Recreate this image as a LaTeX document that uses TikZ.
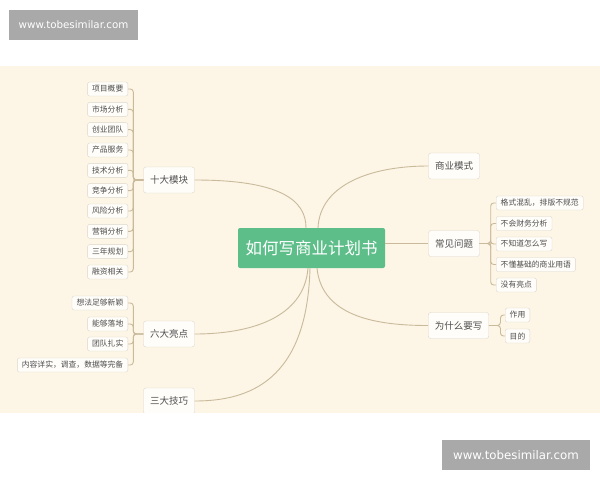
\documentclass[tikz,border=0pt]{standalone}
\usepackage{fontspec}
\setmainfont{Noto Sans CJK SC}
\newfontfamily\wmfont{DejaVu Sans}
\usepackage{tikz}
\usetikzlibrary{positioning}
\definecolor{cream}{HTML}{FDF5E5}
\definecolor{linkc}{HTML}{C9BA9C}
\definecolor{rootc}{HTML}{5DBE89}
\definecolor{boxc}{HTML}{FFFDF9}
\definecolor{edgec}{HTML}{DDD7CB}
\definecolor{textc}{HTML}{4F4F4F}
\definecolor{wmc}{HTML}{A9A9A9}

\tikzset{
  root/.style={fill=rootc, rounded corners=2pt, text=white, minimum width=147pt, minimum height=40pt, font=\fontsize{16.5}{18}\selectfont},
  branch/.style={draw=edgec, fill=boxc, rounded corners=2.5pt, text=textc, inner xsep=6.5pt, minimum height=26pt, font=\fontsize{9.5}{11}\selectfont},
  leaf/.style={draw=edgec, fill=boxc, rounded corners=2pt, text=textc, inner xsep=4.5pt, inner ysep=0pt, minimum height=14pt, font=\fontsize{7.8}{9}\selectfont},
  link/.style={draw=linkc, line width=0.9pt},
  wm/.style={fill=wmc, text=white, inner sep=0pt, minimum height=30pt}
}

\begin{document}
\begin{tikzpicture}[x=1pt,y=-1pt]
        \useasboundingbox (0,0) rectangle (600,480);
        % Background
        \fill[white] (0,0) rectangle (600,480);
        \fill[cream] (0,66) rectangle (600,412.5);
        \begin{scope}
        \clip (0,66) rectangle (600,412.5);
        % Centre
        \node[root] (c) at (311.5,248) {如何写商业计划书};
        % Left branches
        \node[branch] (t) at (169,180) {十大模块};
        \node[branch] (s) at (169,334) {六大亮点};
        \node[branch] (j) at (169,401) {三大技巧};
        % Right branches
        \node[branch] (sy) at (454,166) {商业模式};
        \node[branch] (cj) at (454,243.5) {常见问题};
        \node[branch] (w) at (458.5,325.5) {为什么要写};
        % Curves from the centre
        \draw[link] ([xshift=-5.5pt]c.north) .. controls (306,200) and (280,180) .. (t.east);
        \draw[link] ([xshift=6.5pt]c.north) .. controls (320,185) and (370,166) .. (sy.west);
        \draw[link] (cj.west -| c.east) -- (cj.west);
        \draw[link] ([xshift=-3.5pt]c.south) .. controls (304,318) and (250,334) .. (s.east);
        \draw[link] ([xshift=-1.5pt]c.south) .. controls (307,380) and (250,401) .. (j.east);
        \draw[link] ([xshift=5.5pt]c.south) .. controls (322,318) and (380,325.5) .. (w.west);
        % Ten modules
        \foreach \i/\t in {1/项目概要, 2/市场分析, 3/创业团队, 4/产品服务, 5/技术分析,
                           6/竞争分析, 7/风险分析, 8/营销分析, 9/三年规划, 10/融资相关}
        {
            \node[leaf, anchor=east] (m\i) at (128,{89+20.33*(\i-1)}) {\t};
            \draw[link, rounded corners=3pt] (t.west) -- ++(-10,0) |- (m\i.east);
        }
        % Six highlights
        \foreach \i/\y/\t in {1/303/想法足够新颖, 2/324/能够落地, 3/344/团队扎实, 4/365/内容详实，调查，数据等完备}
        {
            \node[leaf, anchor=east] (l\i) at (128,\y) {\t};
            \draw[link, rounded corners=3pt] (s.west) -- ++(-10,0) |- (l\i.east);
        }
        % Common problems
        \foreach \i/\t in {1/格式混乱，排版不规范, 2/不会财务分析, 3/不知道怎么写, 4/不懂基础的商业用语, 5/没有亮点}
        {
            \node[leaf, anchor=west] (p\i) at (496,{203+20.5*(\i-1)}) {\t};
            \draw[link, rounded corners=3pt] (cj.east) -- ++(11,0) |- (p\i.west);
        }
        % Why write
        \foreach \i/\y/\t in {1/315/作用, 2/336/目的}
        {
            \node[leaf, anchor=west] (r\i) at (505,\y) {\t};
            \draw[link, rounded corners=3pt] (w.east) -- ++(11.5,0) |- (r\i.west);
        }
        \end{scope}
        % Watermarks
        \node[wm, minimum width=129pt, font=\wmfont\fontsize{10.3}{12}\selectfont] (wm1) at (73.5,25) {www.tobesimilar.com};
        \node[wm, minimum width=148pt, font=\wmfont\fontsize{11.8}{14}\selectfont] (wm2) at (516,455) {www.tobesimilar.com};
    \end{tikzpicture}
\end{document}
